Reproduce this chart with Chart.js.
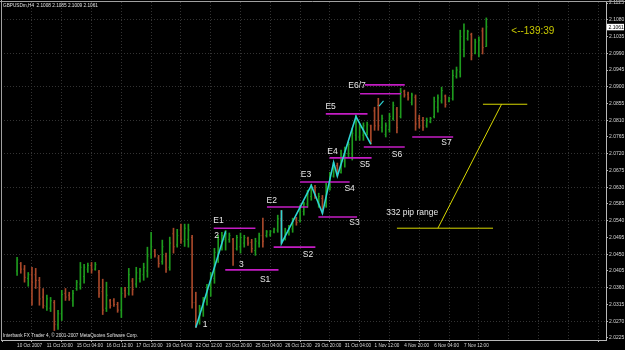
<!DOCTYPE html>
<html>
<head>
<meta charset="utf-8">
<title>GBPUSDm,H4</title>
<script src="https://cdn.jsdelivr.net/npm/chart.js@4.4.0/dist/chart.umd.min.js"></script>
<style>
  html, body { margin: 0; padding: 0; background: #000; }
  #wrap { width: 625px; height: 350px; position: relative; }
</style>
</head>
<body>
<div id="wrap"><canvas id="chart" width="625" height="350"></canvas></div>
<script>
// H4 bars, oldest first
const BAR_OPEN = [
  2.0405, 2.0425, 2.0410, 2.0385, 2.0395, 2.0395, 2.0380, 2.0335, 2.0310, 2.0305,
  2.0320, 2.0260, 2.0290, 2.0345, 2.0340, 2.0325, 2.0358, 2.0370, 2.0390, 2.0410,
  2.0420, 2.0410, 2.0402, 2.0350, 2.0305, 2.0325, 2.0325, 2.0315, 2.0300, 2.0352,
  2.0345, 2.0378, 2.0370, 2.0385, 2.0395, 2.0405, 2.0450, 2.0458, 2.0440, 2.0430,
  2.0445, 2.0415, 2.0505, 2.0475, 2.0515, 2.0485, 2.0490, 2.0495, 2.0320, 2.0268,
  2.0300, 2.0322, 2.0355, 2.0385, 2.0450, 2.0485, 2.0490, 2.0490, 2.0490, 2.0465,
  2.0470, 2.0480, 2.0492, 2.0482, 2.0460, 2.0480, 2.0500, 2.0500, 2.0502, 2.0510,
  2.0515, 2.0545, 2.0492, 2.0510, 2.0518, 2.0545, 2.0540, 2.0565, 2.0585, 2.0605,
  2.0630, 2.0585, 2.0600, 2.0580, 2.0630, 2.0660, 2.0688, 2.0670, 2.0700, 2.0720,
  2.0720, 2.0770, 2.0765, 2.0770, 2.0778, 2.0795, 2.0835, 2.0850, 2.0790, 2.0772,
  2.0785, 2.0815, 2.0840, 2.0820, 2.0888, 2.0880, 2.0858, 2.0872, 2.0815, 2.0810,
  2.0795, 2.0806, 2.0820, 2.0845, 2.0862, 2.0875, 2.0861, 2.0868, 2.0928, 2.0940,
  2.1000, 2.1030, 2.1040, 2.0990, 2.0990, 2.1050, 2.1008
];
const BAR_HIGH = [
  2.0442, 2.0428, 2.0420, 2.0401, 2.0415, 2.0412, 2.0388, 2.0358, 2.0340, 2.0334,
  2.0326, 2.0299, 2.0353, 2.0358, 2.0348, 2.0353, 2.0380, 2.0428, 2.0423, 2.0426,
  2.0428, 2.0428, 2.0407, 2.0383, 2.0375, 2.0329, 2.0331, 2.0321, 2.0361, 2.0361,
  2.0412, 2.0385, 2.0415, 2.0412, 2.0426, 2.0469, 2.0509, 2.0463, 2.0447, 2.0488,
  2.0453, 2.0496, 2.0520, 2.0517, 2.0531, 2.0531, 2.0531, 2.0501, 2.0348, 2.0313,
  2.0334, 2.0369, 2.0401, 2.0466, 2.0501, 2.0509, 2.0514, 2.0507, 2.0493, 2.0501,
  2.0507, 2.0501, 2.0496, 2.0490, 2.0493, 2.0507, 2.0547, 2.0514, 2.0514, 2.0520,
  2.0555, 2.0568, 2.0520, 2.0528, 2.0547, 2.0549, 2.0582, 2.0590, 2.0622, 2.0638,
  2.0635, 2.0614, 2.0608, 2.0641, 2.0670, 2.0697, 2.0695, 2.0730, 2.0738, 2.0751,
  2.0789, 2.0824, 2.0800, 2.0803, 2.0805, 2.0797, 2.0845, 2.0869, 2.0824, 2.0803,
  2.0829, 2.0859, 2.0845, 2.0896, 2.0891, 2.0886, 2.0883, 2.0878, 2.0824, 2.0818,
  2.0816, 2.0818, 2.0872, 2.0878, 2.0899, 2.0878, 2.0872, 2.0945, 2.0953, 2.1052,
  2.1069, 2.1052, 2.1044, 2.1028, 2.1034, 2.1058, 2.1085
];
const BAR_LOW = [
  2.0393, 2.0399, 2.0375, 2.0364, 2.0313, 2.0358, 2.0313, 2.0305, 2.0299, 2.0296,
  2.0245, 2.0248, 2.0272, 2.0326, 2.0326, 2.0310, 2.0353, 2.0356, 2.0372, 2.0401,
  2.0399, 2.0407, 2.0334, 2.0288, 2.0296, 2.0305, 2.0310, 2.0294, 2.0280, 2.0334,
  2.0340, 2.0340, 2.0361, 2.0375, 2.0380, 2.0388, 2.0439, 2.0442, 2.0415, 2.0423,
  2.0401, 2.0407, 2.0453, 2.0469, 2.0479, 2.0471, 2.0469, 2.0305, 2.0253, 2.0262,
  2.0283, 2.0313, 2.0337, 2.0372, 2.0428, 2.0461, 2.0461, 2.0482, 2.0420, 2.0461,
  2.0453, 2.0469, 2.0474, 2.0455, 2.0447, 2.0469, 2.0469, 2.0496, 2.0498, 2.0507,
  2.0509, 2.0479, 2.0488, 2.0501, 2.0509, 2.0528, 2.0536, 2.0555, 2.0576, 2.0595,
  2.0600, 2.0576, 2.0560, 2.0576, 2.0622, 2.0657, 2.0660, 2.0668, 2.0684, 2.0711,
  2.0703, 2.0756, 2.0756, 2.0756, 2.0770, 2.0746, 2.0783, 2.0783, 2.0778, 2.0765,
  2.0778, 2.0810, 2.0776, 2.0816, 2.0872, 2.0864, 2.0851, 2.0783, 2.0789, 2.0783,
  2.0791, 2.0803, 2.0816, 2.0832, 2.0856, 2.0845, 2.0859, 2.0864, 2.0923, 2.0926,
  2.0980, 2.1025, 2.0972, 2.0988, 2.0980, 2.0988, 2.1008
];
const BAR_CLOSE = [
  2.0435, 2.0410, 2.0388, 2.0395, 2.0375, 2.0380, 2.0330, 2.0312, 2.0330, 2.0325,
  2.0262, 2.0290, 2.0342, 2.0335, 2.0332, 2.0345, 2.0375, 2.0415, 2.0415, 2.0420,
  2.0408, 2.0422, 2.0345, 2.0300, 2.0340, 2.0312, 2.0315, 2.0300, 2.0345, 2.0340,
  2.0395, 2.0355, 2.0400, 2.0405, 2.0415, 2.0445, 2.0470, 2.0448, 2.0425, 2.0470,
  2.0410, 2.0480, 2.0470, 2.0500, 2.0490, 2.0520, 2.0515, 2.0320, 2.0270, 2.0305,
  2.0325, 2.0360, 2.0390, 2.0455, 2.0490, 2.0500, 2.0505, 2.0500, 2.0450, 2.0495,
  2.0495, 2.0495, 2.0480, 2.0465, 2.0485, 2.0500, 2.0485, 2.0510, 2.0512, 2.0518,
  2.0545, 2.0490, 2.0515, 2.0522, 2.0540, 2.0535, 2.0575, 2.0585, 2.0612, 2.0630,
  2.0610, 2.0605, 2.0575, 2.0630, 2.0660, 2.0688, 2.0668, 2.0720, 2.0728, 2.0745,
  2.0775, 2.0805, 2.0790, 2.0795, 2.0798, 2.0755, 2.0795, 2.0795, 2.0815, 2.0795,
  2.0820, 2.0850, 2.0790, 2.0885, 2.0878, 2.0870, 2.0878, 2.0800, 2.0795, 2.0790,
  2.0810, 2.0815, 2.0860, 2.0870, 2.0890, 2.0852, 2.0869, 2.0930, 2.0945, 2.1035,
  2.1050, 2.1048, 2.0985, 2.1020, 2.1025, 2.1005, 2.1061
];

// time axis: bar index -> label (every 8 bars)
const TIME_TICK_INDEX = [0, 8, 16, 24, 32, 40, 48, 56, 64, 72, 80, 88, 96, 104, 112, 120, 128, 136, 144, 152];
const TIME_TICK_LABELS = [
  '10 Oct 2007', '11 Oct 20:00', '15 Oct 04:00', '16 Oct 12:00', '17 Oct 20:00',
  '19 Oct 04:00', '22 Oct 12:00', '23 Oct 20:00', '25 Oct 04:00', '26 Oct 12:00',
  '29 Oct 20:00', '31 Oct 04:00', '1 Nov 12:00', '4 Nov 20:00', '6 Nov 04:00', '7 Nov 12:00',
  '', '', '', ''
];
const PRICE_TICKS = [
  '2.1125', '2.1080', '2.1035', '2.0990', '2.0945', '2.0900', '2.0855', '2.0810',
  '2.0765', '2.0720', '2.0675', '2.0630', '2.0585', '2.0540', '2.0495', '2.0450',
  '2.0405', '2.0360', '2.0315', '2.0270', '2.0225'
];

// ZigZag legs (bar index, price)
const ZIGZAG_A = [[48, 2.0253], [56, 2.0512]];
const ZIGZAG_B = [[71, 2.0568], [71, 2.0479], [79, 2.0635], [82, 2.0560], [85, 2.0697],
                  [86, 2.0660], [91, 2.0820], [95, 2.0746]];
const ZIGZAG_C = [[97.2, 2.0848], [98.4, 2.0862]];

// entry / stop levels: [price, from bar, to bar]
const LEVELS = [
  [2.0520, 52.8, 64.0], [2.0408, 55.9, 70.2], [2.0577, 67.1, 78.1], [2.0469, 68.9, 80.1],
  [2.0644, 76.0, 89.3], [2.0550, 80.9, 91.3], [2.0709, 83.9, 95.2], [2.0827, 82.9, 94.1],
  [2.0738, 93.1, 104.1], [2.0881, 92.1, 103.1], [2.0905, 93.4, 104.1], [2.0765, 106.1, 117.1]
];

// 332 pip range marker
const RANGE_TOP = [[125.1, 2.0853], [137.0, 2.0853]];
const RANGE_DIAG = [[130.1, 2.0853], [113.0, 2.0520]];
const RANGE_BOTTOM = [[102.0, 2.0520], [127.8, 2.0520]];

const NOTES = [
  ['1', 50.5, 2.0260], ['2', 53.6, 2.0499], ['E1', 54.1, 2.0539], ['3', 60.2, 2.0421],
  ['S1', 66.6, 2.0383], ['E2', 68.4, 2.0593], ['S2', 78.1, 2.0448], ['E3', 77.6, 2.0663],
  ['S3', 90.6, 2.0534], ['S4', 89.3, 2.0625], ['E4', 84.7, 2.0725], ['S5', 93.4, 2.0690],
  ['E5', 84.2, 2.0846], ['S6', 102.0, 2.0717], ['E6/7', 91.3, 2.0902], ['S7', 115.3, 2.0749],
  ['332 pip range', 106.1, 2.0561]
];
const TIMER_NOTE = ['<--139:39', 138.5, 2.1050];

const HEADER = 'GBPUSDm,H4  2.1008 2.1085 2.1009 2.1061';
const FOOTER = 'Interbank FX Trader 4, \u00a9 2001-2007 MetaQuotes Software Corp.';

const UP = '#1e9b1e';
const DOWN = '#a8482a';
const CYAN = '#2ed3d3';
const MAGENTA = '#c41cc4';
const YELLOW = '#d8d800';
const FONT = '"Liberation Sans", Arial, sans-serif';

const barColors = BAR_CLOSE.map((c, i) => c >= BAR_OPEN[i] ? UP : DOWN);
const pts = arr => arr.map(p => ({ x: p[0], y: p[1] }));

function lineSet(points, color, width) {
    return {
        type: 'line',
        data: pts(points),
        borderColor: color,
        borderWidth: width,
        pointRadius: 0,
        fill: false,
        tension: 0,
        order: 0
    };
}

const datasets = [
    {
        type: 'bar',
        data: BAR_HIGH.map((h, i) => ({ x: i, y: [BAR_LOW[i], h] })),
        backgroundColor: barColors,
        barThickness: 1,
        grouped: false,
        order: 5
    },
    {
        type: 'scatter',
        data: BAR_OPEN.map((o, i) => ({ x: i, y: o })),
        pointStyle: 'dash',
        pointRotation: 180,
        pointRadius: 1.1,
        pointBorderWidth: 1,
        pointBorderColor: barColors,
        pointBackgroundColor: barColors,
        order: 4
    },
    {
        type: 'scatter',
        data: BAR_CLOSE.map((c, i) => ({ x: i, y: c })),
        pointStyle: 'dash',
        pointRotation: 0,
        pointRadius: 1.1,
        pointBorderWidth: 1,
        pointBorderColor: barColors,
        pointBackgroundColor: barColors,
        order: 4
    },
    lineSet(ZIGZAG_A, CYAN, 1.6),
    lineSet(ZIGZAG_B, CYAN, 1.6),
    lineSet(ZIGZAG_C, CYAN, 1.2),
    ...LEVELS.map(l => lineSet([[l[1], l[0]], [l[2], l[0]]], MAGENTA, 1.6)),
    lineSet(RANGE_TOP, YELLOW, 1),
    lineSet(RANGE_DIAG, YELLOW, 1),
    lineSet(RANGE_BOTTOM, YELLOW, 1)
];

// frame, texts and the live price box
const mtPlugin = {
    id: 'mtDecor',
    afterDraw(chart) {
        const { ctx, scales: { x, y }, chartArea } = chart;
        ctx.save();
        ctx.strokeStyle = '#a0a0a0';
        ctx.lineWidth = 1;
        ctx.beginPath();
        ctx.moveTo(0, 1.5); ctx.lineTo(chart.width, 1.5);
        ctx.moveTo(1.5, 0); ctx.lineTo(1.5, chartArea.bottom);
        ctx.stroke();

        ctx.textAlign = 'center';
        ctx.textBaseline = 'middle';
        ctx.fillStyle = '#e8e8e8';
        ctx.font = '8.5px ' + FONT;
        NOTES.forEach(n => ctx.fillText(n[0], x.getPixelForValue(n[1]), y.getPixelForValue(n[2])));

        ctx.fillStyle = '#c8c800';
        ctx.font = '10px ' + FONT;
        ctx.fillText(TIMER_NOTE[0], x.getPixelForValue(TIMER_NOTE[1]), y.getPixelForValue(TIMER_NOTE[2]));

        ctx.textAlign = 'left';
        ctx.fillStyle = '#e0e0e0';
        ctx.font = '4.7px ' + FONT;
        ctx.fillText(HEADER, 3, 5.5);
        ctx.fillText(FOOTER, 3, 336);

        const last = BAR_CLOSE[BAR_CLOSE.length - 1];
        const py = y.getPixelForValue(last);
        ctx.fillStyle = '#ffffff';
        ctx.fillRect(chartArea.right + 1, py - 3, 17, 6.5);
        ctx.fillStyle = '#000000';
        ctx.font = '5px ' + FONT;
        ctx.fillText(last.toFixed(4), chartArea.right + 2.5, py + 0.3);
        ctx.restore();
    }
};

new Chart(document.getElementById('chart'), {
    type: 'bar',
    data: { datasets },
    options: {
        responsive: false,
        animation: false,
        events: [],
        layout: { padding: { top: 2, left: 1, right: 0, bottom: 0 }, autoPadding: false },
        plugins: { legend: { display: false }, tooltip: { enabled: false } },
        scales: {
            x: {
                type: 'linear',
                min: -0.255,
                max: 154.08,
                afterBuildTicks: s => { s.ticks = TIME_TICK_INDEX.map(v => ({ value: v })); },
                afterFit: s => { s.height = 10; s.paddingLeft = 0; s.paddingRight = 0; },
                ticks: {
                    autoSkip: false,
                    maxRotation: 0,
                    align: 'start',
                    padding: 1,
                    color: '#d8d8d8',
                    font: { size: 4.6, family: FONT },
                    callback: v => TIME_TICK_LABELS[TIME_TICK_INDEX.indexOf(v)] || ''
                },
                grid: {
                    color: c => c.index === 0 ? 'transparent' : '#333333',
                    tickColor: c => (c.tick && c.tick.value > 120) ? 'transparent' : '#b0b0b0',
                    tickLength: 2
                },
                border: { color: '#b8b8b8', dash: [1, 2] }
            },
            y: {
                position: 'right',
                min: 2.02196,
                max: 2.11277,
                afterBuildTicks: s => { s.ticks = PRICE_TICKS.map(t => ({ value: parseFloat(t) })); },
                afterFit: s => { s.width = 19; s.paddingTop = 0; s.paddingBottom = 0; },
                ticks: {
                    padding: 1,
                    color: '#d8d8d8',
                    font: { size: 5, family: FONT },
                    callback: (v, i) => PRICE_TICKS[i]
                },
                grid: {
                    color: c => c.index % 2 === 1 ? '#333333' : 'transparent',
                    tickColor: '#b0b0b0',
                    tickLength: 2
                },
                border: { color: '#b8b8b8', dash: [1, 2] }
            }
        }
    },
    plugins: [mtPlugin]
});
</script>
</body>
</html>
